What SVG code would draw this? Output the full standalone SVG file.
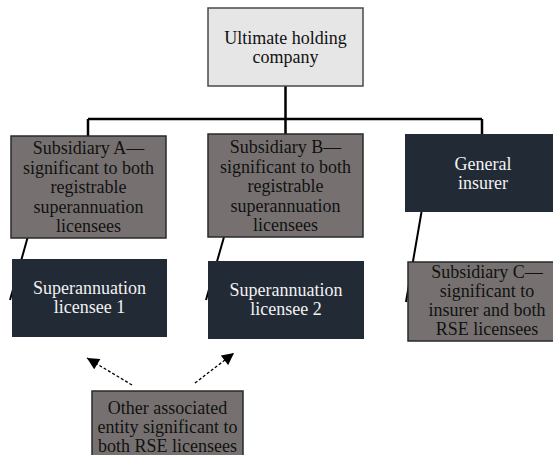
<svg xmlns="http://www.w3.org/2000/svg" width="553" height="455" viewBox="0 0 553 455">
<style>
text{font-family:"Liberation Serif","Times New Roman",serif;font-size:18px;text-anchor:middle}
.light{fill:#e6e6e6;stroke:#4a4a4a;stroke-width:1.5}
.gray{fill:#767170;stroke:#2a2a2a;stroke-width:1.5}
.dark{fill:#222a36;stroke:none}
.tb{fill:#111}
.tw{fill:#f2f2f2}
.conn{stroke:#000;stroke-width:2.5;fill:none}
.slant{stroke:#000;stroke-width:2;fill:none}
.dash{stroke:#000;stroke-width:1.3;stroke-dasharray:3 2;fill:none}
</style>
<defs>
<marker id="ah" viewBox="0 0 10 10" markerWidth="13" markerHeight="12" markerUnits="userSpaceOnUse" refX="10" refY="5" orient="auto">
<path d="M0,0 L10,5 L0,10 z" fill="#000"/>
</marker>
</defs>
<rect width="553" height="455" fill="#fff"/>
<g id="connectors">
<path class="conn" d="M285.5,86 V134 M88,119 H482 M88,119 V136 M482,119 V134"/>
<path class="slant" d="M27.5,238 L10,300"/>
<path class="slant" d="M224,237 L206,300"/>
<path class="slant" d="M421.5,212 L406,302"/>
<path class="dash" d="M132,385 L87,358" marker-end="url(#ah)"/>
<path class="dash" d="M195,383 L234,353" marker-end="url(#ah)"/>
</g>
<g id="ultimate">
<rect class="light" x="208" y="8" width="155" height="78"/>
<text class="tb" x="285.5" y="44">Ultimate holding</text>
<text class="tb" x="285.5" y="63">company</text>
</g>
<g id="subA">
<rect class="gray" x="11" y="136" width="155" height="102"/>
<text class="tb" x="88.5" y="154">Subsidiary A—</text>
<text class="tb" x="88.5" y="173.5">significant to both</text>
<text class="tb" x="88.5" y="193">registrable</text>
<text class="tb" x="88.5" y="212.5">superannuation</text>
<text class="tb" x="88.5" y="232">licensees</text>
</g>
<g id="subB">
<rect class="gray" x="208" y="134" width="155" height="103"/>
<text class="tb" x="285.5" y="153">Subsidiary B—</text>
<text class="tb" x="285.5" y="172.5">significant to both</text>
<text class="tb" x="285.5" y="192">registrable</text>
<text class="tb" x="285.5" y="211.5">superannuation</text>
<text class="tb" x="285.5" y="231">licensees</text>
</g>
<g id="insurer">
<rect class="dark" x="405" y="134" width="156" height="78"/>
<text class="tw" x="483" y="170">General</text>
<text class="tw" x="483" y="189">insurer</text>
</g>
<g id="licensee1">
<rect class="dark" x="12" y="259" width="155" height="78"/>
<text class="tw" x="89.5" y="294">Superannuation</text>
<text class="tw" x="89.5" y="313">licensee 1</text>
</g>
<g id="licensee2">
<rect class="dark" x="208" y="261" width="156" height="78"/>
<text class="tw" x="286" y="296">Superannuation</text>
<text class="tw" x="286" y="315">licensee 2</text>
</g>
<g id="subC">
<rect class="gray" x="408" y="262" width="157" height="79"/>
<text class="tb" x="487" y="278">Subsidiary C—</text>
<text class="tb" x="487" y="297">significant to</text>
<text class="tb" x="487" y="316">insurer and both</text>
<text class="tb" x="487" y="335">RSE licensees</text>
</g>
<g id="other">
<rect class="gray" x="92" y="391" width="151" height="70"/>
<text class="tb" x="167.5" y="414">Other associated</text>
<text class="tb" x="167.5" y="433">entity significant to</text>
<text class="tb" x="167.5" y="452">both RSE licensees</text>
</g>
</svg>
